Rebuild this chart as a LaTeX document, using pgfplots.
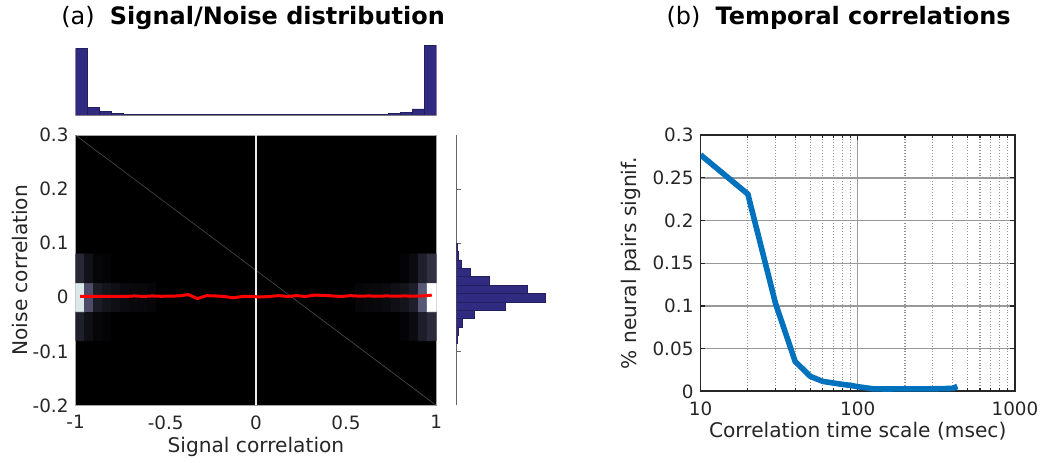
\documentclass[border=0pt]{standalone}
\usepackage{fontspec}
\setmainfont{DejaVu Sans}
\usepackage{pgfplots}
\pgfplotsset{compat=1.18}

\definecolor{txt}{HTML}{262626}
\definecolor{histblue}{RGB}{48,42,128}
\definecolor{mblue}{RGB}{0,114,189}

\pgfplotsset{
  /pgf/number format/assume math mode=true,
  every tick label/.append style={font=\fontsize{9.2}{11}\selectfont, text=txt},
  every axis label/.append style={font=\fontsize{10.1}{12}\selectfont, text=txt},
}

\begin{document}
\begin{tikzpicture}
\path (0,0) rectangle (522.5pt,229.5pt);

% titles
\node[font=\fontsize{12}{14}\selectfont] at (126.75pt,220.5pt) {(a)\ \ \textbf{Signal/Noise distribution}};
\node[font=\fontsize{12}{14}\selectfont] at (420pt,220.5pt) {(b)\ \ \textbf{Temporal correlations}};

% joint histogram (heat map)
\begin{axis}[
    at={(37.85pt,26.65pt)}, anchor=south west, scale only axis,
    width=180.65pt, height=135.35pt,
    xmin=-1, xmax=1, ymin=-0.2, ymax=0.3,
    axis background/.style={fill=black},
    axis line style={gray!70},
    xtick={-1,-0.5,0,0.5,1}, xticklabels={-1,-0.5,0,0.5,1},
    ytick={-0.2,-0.1,0,0.1,0.2,0.3}, yticklabels={-0.2,-0.1,0,0.1,0.2,0.3},
    major tick length=0pt,
    xticklabel style={yshift=-1.5pt},
    xlabel={Signal correlation}, ylabel={Noise correlation},
    every axis x label/.style={at={(axis description cs:0.5,-0.152)}, anchor=center},
    every axis y label/.style={at={(axis description cs:-0.154,0.5)}, rotate=90, anchor=center},
    colormap={bone}{rgb255(0cm)=(0,0,0); rgb255(3cm)=(81,81,113); rgb255(6cm)=(166,198,198); rgb255(8cm)=(255,255,255)},
    point meta min=0, point meta max=1,
]
\addplot[matrix plot*, mesh/cols=40, point meta=explicit] table[meta=c] {
x y c
-0.975 -0.0535 0.15
-0.925 -0.0535 0.07
-0.875 -0.0535 0.03
-0.825 -0.0535 0.02
-0.775 -0.0535 0
-0.725 -0.0535 0
-0.675 -0.0535 0
-0.625 -0.0535 0
-0.575 -0.0535 0
-0.525 -0.0535 0
-0.475 -0.0535 0
-0.425 -0.0535 0
-0.375 -0.0535 0
-0.325 -0.0535 0
-0.275 -0.0535 0
-0.225 -0.0535 0
-0.175 -0.0535 0
-0.125 -0.0535 0
-0.075 -0.0535 0
-0.025 -0.0535 0
0.025 -0.0535 0
0.075 -0.0535 0
0.125 -0.0535 0
0.175 -0.0535 0
0.225 -0.0535 0
0.275 -0.0535 0
0.325 -0.0535 0
0.375 -0.0535 0
0.425 -0.0535 0
0.475 -0.0535 0
0.525 -0.0535 0
0.575 -0.0535 0
0.625 -0.0535 0
0.675 -0.0535 0
0.725 -0.0535 0
0.775 -0.0535 0
0.825 -0.0535 0.02
0.875 -0.0535 0.05
0.925 -0.0535 0.14
0.975 -0.0535 0.2
-0.975 0 0.9
-0.925 0 0.35
-0.875 0 0.13
-0.825 0 0.09
-0.775 0 0.07
-0.725 0 0.05
-0.675 0 0.04
-0.625 0 0.035
-0.575 0 0.03
-0.525 0 0
-0.475 0 0
-0.425 0 0
-0.375 0 0
-0.325 0 0
-0.275 0 0
-0.225 0 0
-0.175 0 0
-0.125 0 0
-0.075 0 0
-0.025 0 0
0.025 0 0
0.075 0 0
0.125 0 0
0.175 0 0
0.225 0 0
0.275 0 0
0.325 0 0
0.375 0 0
0.425 0 0
0.475 0 0
0.525 0 0
0.575 0 0.03
0.625 0 0.035
0.675 0 0.04
0.725 0 0.05
0.775 0 0.07
0.825 0 0.09
0.875 0 0.14
0.925 0 0.4
0.975 0 1.0
-0.975 0.0535 0.18
-0.925 0.0535 0.08
-0.875 0.0535 0.03
-0.825 0.0535 0.02
-0.775 0.0535 0
-0.725 0.0535 0
-0.675 0.0535 0
-0.625 0.0535 0
-0.575 0.0535 0
-0.525 0.0535 0
-0.475 0.0535 0
-0.425 0.0535 0
-0.375 0.0535 0
-0.325 0.0535 0
-0.275 0.0535 0
-0.225 0.0535 0
-0.175 0.0535 0
-0.125 0.0535 0
-0.075 0.0535 0
-0.025 0.0535 0
0.025 0.0535 0
0.075 0.0535 0
0.125 0.0535 0
0.175 0.0535 0
0.225 0.0535 0
0.275 0.0535 0
0.325 0.0535 0
0.375 0.0535 0
0.425 0.0535 0
0.475 0.0535 0
0.525 0.0535 0
0.575 0.0535 0
0.625 0.0535 0
0.675 0.0535 0
0.725 0.0535 0
0.775 0.0535 0
0.825 0.0535 0.02
0.875 0.0535 0.05
0.925 0.0535 0.15
0.975 0.0535 0.22
};
\addplot[gray!60!black, line width=0.3pt] coordinates {(-1,0.3) (1,-0.2)};
\addplot[white!85!gray, line width=0.6pt] coordinates {(0,-0.2) (0,0.3)};
% mean noise correlation per signal-correlation bin
\addplot[red, line width=1.5pt] coordinates {
(-0.975,0.0015) (-0.925,0.0015) (-0.875,0.0018) (-0.825,0.0015) (-0.775,0.0018)
(-0.725,0.0015) (-0.675,0.0025) (-0.625,0.0015) (-0.575,0.0025) (-0.525,0.0018)
(-0.475,0.0022) (-0.425,0.0025) (-0.375,0.005) (-0.325,-0.0025) (-0.275,0.003)
(-0.225,0.0025) (-0.175,0.0015) (-0.125,-0.001) (-0.075,0.0015) (-0.025,0.0015)
(0.025,0.0005) (0.075,0.0015) (0.125,0.003) (0.175,0.0015) (0.225,0.003)
(0.275,0.0015) (0.325,0.004) (0.375,0.0035) (0.425,0.0025) (0.475,0.0015)
(0.525,0.003) (0.575,0.002) (0.625,0.0025) (0.675,0.002) (0.725,0.0025)
(0.775,0.002) (0.825,0.0025) (0.875,0.002) (0.925,0.0025) (0.975,0.004)
};
\end{axis}

% marginal: signal correlation
\begin{axis}[
    at={(37.85pt,172pt)}, anchor=south west, scale only axis,
    width=180.65pt, height=35pt,
    xmin=-1, xmax=1, ymin=0, ymax=70,
    axis lines=none, ticks=none,
]
\addplot[ybar interval, fill=histblue, draw=histblue!75!black, line width=0.3pt] coordinates {
(-1,66.7) (-0.9333,7.7) (-0.8667,4) (-0.8,2) (-0.7333,1) (-0.6667,0.6)
(-0.6,0.6) (-0.5333,0.6) (-0.4667,0.6) (-0.4,0.6) (-0.3333,0.4) (-0.2667,0.4)
(-0.2,0.4) (-0.1333,0.4) (-0.0667,0.4) (0,0.4) (0.0667,0.4) (0.1333,0.4)
(0.2,0.4) (0.2667,0.4) (0.3333,0.6) (0.4,0.6) (0.4667,0.6) (0.5333,0.6)
(0.6,0.6) (0.6667,1) (0.7333,1.5) (0.8,3) (0.8667,6.3) (0.9333,70) (1,0)
};
\addplot[gray, line width=0.4pt] coordinates {(-1,0) (1,0)};
\end{axis}

% marginal: noise correlation
\begin{axis}[
    at={(228.65pt,26.65pt)}, anchor=south west, scale only axis,
    width=45pt, height=135.35pt,
    xmin=0, xmax=90, ymin=-0.2, ymax=0.3,
    axis x line=none, axis y line*=left,
    xtick=\empty, ytick={-0.1,0,0.1,0.2}, yticklabels={},
    tick align=inside, major tick length=2pt,
    axis line style={gray!80!black}, tick style={gray!80!black},
]
\addplot[xbar interval, fill=histblue, draw=histblue!75!black, line width=0.3pt] coordinates {
(0.8,-0.086) (2,-0.0705) (6,-0.055) (17.7,-0.0395) (48.7,-0.024) (89,-0.0085)
(71,0.007) (32.7,0.0225) (13.7,0.038) (4.7,0.0535) (1.7,0.069) (0.8,0.0845) (0,0.1)
};
\end{axis}

% temporal correlations
\begin{axis}[
    at={(350.85pt,33.65pt)}, anchor=south west, scale only axis,
    width=157.5pt, height=128.35pt,
    xmode=log, xmin=10, xmax=1000, ymin=0, ymax=0.3,
    xtick={10,100,1000}, xticklabels={10,100,1000},
    ytick={0,0.05,0.1,0.15,0.2,0.25,0.3},
    yticklabels={0,0.05,0.1,0.15,0.2,0.25,0.3},
    xmajorgrids, ymajorgrids, xminorgrids,
    major grid style={gray!80, line width=0.7pt},
    minor grid style={gray!85, densely dotted, line width=0.6pt},
    axis line style={black!85, line width=0.9pt},
    tick style={black!85, line width=0.6pt},
    tick align=inside, major tick length=2.5pt, minor tick length=1.5pt,
    xticklabel style={yshift=-1.5pt},
    xlabel={Correlation time scale (msec)}, ylabel={\% neural pairs signif.},
    every axis x label/.style={at={(axis description cs:0.5,-0.156)}, anchor=center},
    every axis y label/.style={at={(axis description cs:-0.222,0.5)}, rotate=90, anchor=center},
]
\addplot[mblue, line width=2.8pt] coordinates {
(10,0.277) (20,0.231) (30,0.103) (40,0.035) (50,0.0175) (60,0.0117)
(70,0.0098) (80,0.0082) (90,0.007) (100,0.0055) (125,0.003) (150,0.0028)
(200,0.003) (300,0.003) (400,0.0035) (430,0.0058)
};
\end{axis}
\end{tikzpicture}
\end{document}
